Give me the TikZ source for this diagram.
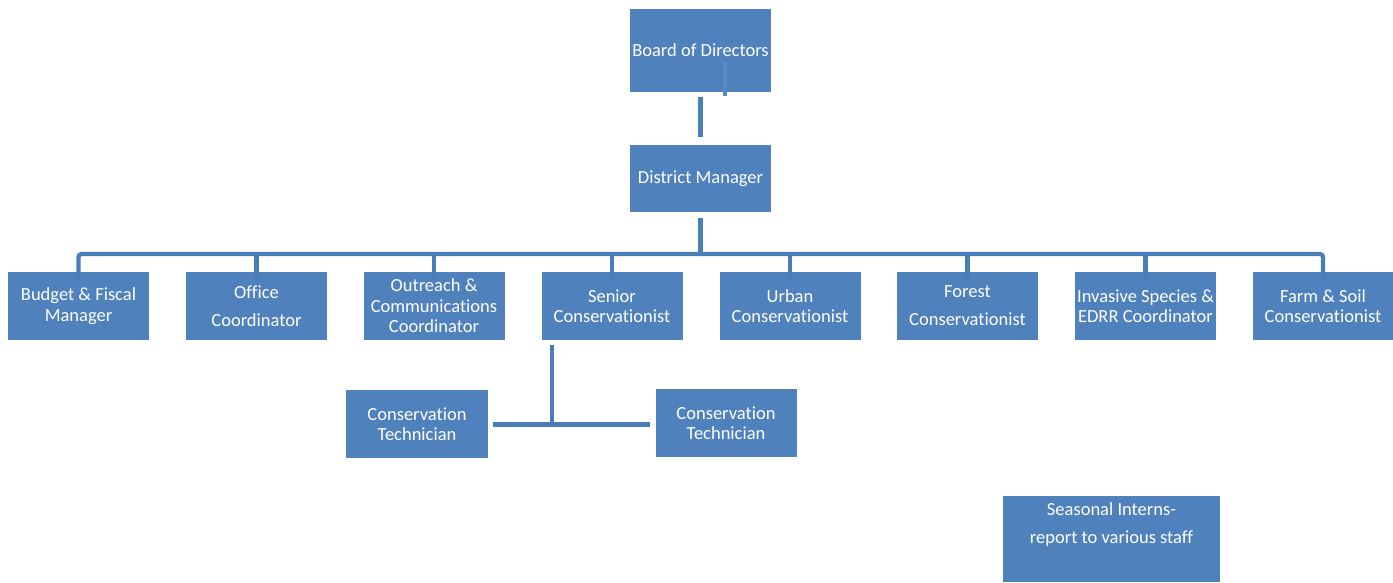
\documentclass[tikz,border=0pt]{standalone}
\usepackage{fontspec}
\setmainfont[Ligatures=NoCommon]{Carlito}
\definecolor{boxblue}{HTML}{4F81BD}
\definecolor{lineblue}{HTML}{4A7EBB}
\definecolor{stubblue}{HTML}{5A8AC6}
\begin{document}
\begin{tikzpicture}[x=1pt,y=-1pt,
  orgbox/.style={draw=none, fill=boxblue, text=white, inner sep=0pt,
    minimum width=141pt, minimum height=68pt, align=center,
    font=\fontsize{18.5}{20.5}\selectfont},
  conn/.style={draw=lineblue, line width=4.2pt}]
\useasboundingbox (0,0) rectangle (1393,582);
% top
\node[orgbox, minimum height=83pt] (bod) at (700.5,50.5) {Board of Directors};
\draw[stubblue, line width=4pt] (725,62) -- (725,96);
\node[orgbox, minimum height=67pt] (dm) at (700.5,178.5) {District Manager};
\draw[conn] ([yshift=-5pt]bod.south) -- ([yshift=8pt]dm.north);
% row
\node[orgbox] (b1) at (78.5,306) {Budget \& Fiscal\\Manager};
\node[orgbox] (b2) at (256.5,306) {Office\\[7.5pt]Coordinator};
\node[orgbox] (b3) at (434,306) {Outreach \&\\Communications\\Coordinator};
\node[orgbox] (b4) at (612,306) {Senior\\Conservationist};
\node[orgbox] (b5) at (790,306) {Urban\\Conservationist};
\node[orgbox] (b6) at (967.5,306) {Forest\\[7.5pt]Conservationist};
\node[orgbox] (b7) at (1145.5,306) {Invasive Species \&\\EDRR Coordinator};
\node[orgbox, minimum width=140pt] (b8) at (1323,306) {Farm \& Soil\\Conservationist};
% bus
\coordinate (bus) at (700,254);
\draw[conn] ([yshift=-6pt]dm.south) -- (dm.south |- bus);
\draw[conn, rounded corners=3pt] ([yshift=-7pt]b1.north) -- (b1.north |- bus) -- (b8.north |- bus) -- ([yshift=-7pt]b8.north);
\foreach \b in {b2,b3,b4,b5,b6,b7}
  \draw[conn] ([yshift=-7pt]\b.north) -- (\b.north |- bus);
% technicians
\node[orgbox, minimum width=142pt] (t1) at (417,424) {Conservation\\Technician};
\node[orgbox] (t2) at (726,423) {Conservation\\Technician};
\coordinate (sc) at (552,345);
\coordinate (tj) at (552,424.5);
\draw[conn] (sc) -- ([yshift=2pt]tj);
\draw[conn] ([xshift=5pt]t1.east |- tj) -- ([xshift=-5pt]t2.west |- tj);
% interns
\node[orgbox, minimum width=217pt, minimum height=86pt] (si) at (1111.5,539) {};
\node[text=white, align=center, inner sep=0pt, font=\fontsize{18.5}{28}\selectfont] (sit) at (1111.5,525) {Seasonal Interns-\\report to various staff};
\end{tikzpicture}
\end{document}
